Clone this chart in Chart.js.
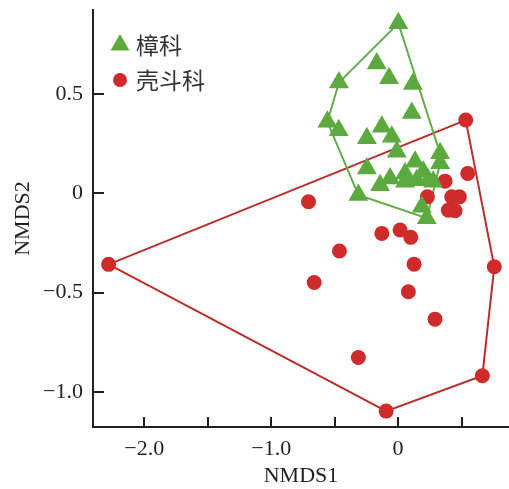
<!DOCTYPE html>
<html>
<head>
<meta charset="utf-8">
<script src="https://cdn.jsdelivr.net/npm/chart.js@4/dist/chart.umd.min.js"></script>
<style>
  html, body { margin: 0; padding: 0; background: #fff; overflow: hidden; }
  #wrap { width: 509px; height: 489px; }
  canvas { display: block; }
</style>
</head>
<body>
<div id="wrap"><canvas id="nmdsChart" width="509" height="489"></canvas></div>
<script>
// 樟科 (triangles)
const lauraceaeX = [0.002, -0.168, -0.071, -0.466, 0.116, 0.108, -0.557, -0.468, -0.128, -0.246,
    -0.050, -0.010, 0.134, 0.331, 0.331, -0.246, -0.063, -0.142, 0.055, 0.055,
    0.199, 0.239, 0.147, -0.313, 0.187, 0.226, 0.276];
const lauraceaeY = [0.856, 0.654, 0.579, 0.558, 0.550, 0.404, 0.360, 0.318, 0.335, 0.277,
    0.285, 0.209, 0.159, 0.201, 0.151, 0.125, 0.075, 0.041, 0.100, 0.058,
    0.108, 0.066, 0.066, -0.009, -0.068, -0.126, 0.058];

// 壳斗科 (circles)
const fagaceaeX = [-2.281, -0.706, -0.462, -0.661, -0.128, 0.016, 0.100, 0.126, 0.081, 0.291,
    -0.313, -0.094, 0.664, 0.758, 0.549, 0.370, 0.231, 0.423, 0.483, 0.396,
    0.449, 0.533];
const fagaceaeY = [-0.358, -0.043, -0.291, -0.449, -0.202, -0.185, -0.222, -0.357, -0.496, -0.634,
    -0.827, -1.097, -0.919, -0.370, 0.100, 0.061, -0.018, -0.018, -0.018, -0.085,
    -0.088, 0.369];

const xTicks = [-2, -1.5, -1, -0.5, 0, 0.5];
const xTickLabels = ['\u22122.0', '', '\u22121.0', '', '0', ''];
const yTicks = [-1, -0.5, 0, 0.5];
const yTickLabels = ['\u22121.0', '\u22120.5', '0', '0.5'];

const axisColor = '#231f20';
const serif = '"Liberation Serif", "DejaVu Serif", serif';

function toPoints(xs, ys) {
    return xs.map((x, i) => ({ x: x, y: ys[i] }));
}

// convex hull (monotone chain), closed for drawing
function convexHull(pts) {
    const p = pts.slice().sort((a, b) => a.x - b.x || a.y - b.y);
    const cross = (o, a, b) => (a.x - o.x) * (b.y - o.y) - (a.y - o.y) * (b.x - o.x);
    const lower = [];
    p.forEach(pt => {
        while (lower.length >= 2 && cross(lower[lower.length - 2], lower[lower.length - 1], pt) <= 0) lower.pop();
        lower.push(pt);
    });
    const upper = [];
    for (let i = p.length - 1; i >= 0; i--) {
        const pt = p[i];
        while (upper.length >= 2 && cross(upper[upper.length - 2], upper[upper.length - 1], pt) <= 0) upper.pop();
        upper.push(pt);
    }
    upper.pop();
    lower.pop();
    const hull = lower.concat(upper);
    hull.push(hull[0]);
    return hull;
}

const greenPts = toPoints(lauraceaeX, lauraceaeY);
const redPts = toPoints(fagaceaeX, fagaceaeY);

// ticks drawn inward + legend inside the plot
const nmdsDecor = {
    id: 'nmdsDecor',
    afterDraw(chart) {
        const ctx = chart.ctx;
        const area = chart.chartArea;
        const xs = chart.scales.x;
        const ys = chart.scales.y;
        ctx.save();
        ctx.strokeStyle = axisColor;
        ctx.lineWidth = 2;
        ctx.beginPath();
        xTicks.forEach(v => {
            const px = Math.round(xs.getPixelForValue(v));
            ctx.moveTo(px, area.bottom);
            ctx.lineTo(px, area.bottom - 10);
        });
        yTicks.forEach(v => {
            const py = Math.round(ys.getPixelForValue(v));
            ctx.moveTo(area.left, py);
            ctx.lineTo(area.left + 11, py);
        });
        ctx.stroke();

        // legend
        const items = [chart.data.datasets[0], chart.data.datasets[1]];
        items.forEach((ds, i) => {
            const cy = 45 + i * 35;
            ctx.fillStyle = ds.backgroundColor;
            ctx.beginPath();
            if (ds.pointStyle === 'triangle') {
                ctx.moveTo(120, cy - 11);
                ctx.lineTo(120 + 9.5, cy + 5.5);
                ctx.lineTo(120 - 9.5, cy + 5.5);
            } else {
                ctx.arc(120, cy, 7, 0, Math.PI * 2);
            }
            ctx.closePath();
            ctx.fill();
            ctx.fillStyle = '#333';
            ctx.font = '23px "Noto Sans CJK SC", sans-serif';
            ctx.textBaseline = 'middle';
            ctx.textAlign = 'left';
            ctx.fillText(ds.label, 136, cy);
        });
        ctx.restore();
    }
};

new Chart(document.getElementById('nmdsChart'), {
    type: 'scatter',
    data: {
        datasets: [
            {
                label: '樟科',
                data: greenPts,
                pointStyle: 'triangle',
                pointRadius: 11.5,
                pointHoverRadius: 11.5,
                backgroundColor: '#5caa3f',
                borderColor: '#5caa3f',
                borderWidth: 0
            },
            {
                label: '壳斗科',
                data: redPts,
                pointStyle: 'circle',
                pointRadius: 7.5,
                pointHoverRadius: 7.5,
                backgroundColor: '#cf2b2b',
                borderColor: '#cf2b2b',
                borderWidth: 0
            },
            {
                label: 'hullGreen',
                data: convexHull(greenPts),
                showLine: true,
                pointRadius: 0,
                borderColor: '#63ad4a',
                borderWidth: 2,
                fill: false
            },
            {
                label: 'hullRed',
                data: convexHull(redPts),
                showLine: true,
                pointRadius: 0,
                borderColor: '#b5312e',
                borderWidth: 2,
                fill: false
            }
        ]
    },
    options: {
        responsive: false,
        animation: false,
        layout: { autoPadding: false, padding: { top: 10, right: 0, left: 0, bottom: 0 } },
        plugins: {
            legend: { display: false },
            tooltip: { enabled: false }
        },
        scales: {
            x: {
                type: 'linear',
                min: -2.404,
                max: 0.874,
                afterBuildTicks: s => { s.ticks = xTicks.map(v => ({ value: v })); },
                afterFit: s => { s.height = 62; s.paddingLeft = 0; s.paddingRight = 0; },
                grid: { display: false, drawTicks: false },
                border: { display: true, color: axisColor, width: 2 },
                ticks: {
                    autoSkip: false,
                    maxRotation: 0,
                    padding: 9,
                    color: axisColor,
                    font: { family: serif, size: 22 },
                    callback: (v, i) => xTickLabels[i]
                },
                title: {
                    display: true,
                    text: 'NMDS1',
                    color: axisColor,
                    font: { family: serif, size: 22 },
                    padding: { top: 0, bottom: 0 }
                }
            },
            y: {
                type: 'linear',
                min: -1.177,
                max: 0.923,
                afterBuildTicks: s => { s.ticks = yTicks.map(v => ({ value: v })); },
                afterFit: s => { s.width = 93; s.paddingTop = 0; s.paddingBottom = 0; },
                grid: { display: false, drawTicks: false },
                border: { display: true, color: axisColor, width: 2 },
                ticks: {
                    autoSkip: false,
                    padding: 10,
                    color: axisColor,
                    font: { family: serif, size: 22 },
                    callback: (v, i) => yTickLabels[i]
                },
                title: {
                    display: true,
                    text: 'NMDS2',
                    color: axisColor,
                    font: { family: serif, size: 22 },
                    padding: { top: 10, bottom: 0 }
                }
            }
        }
    },
    plugins: [nmdsDecor]
});
</script>
</body>
</html>
